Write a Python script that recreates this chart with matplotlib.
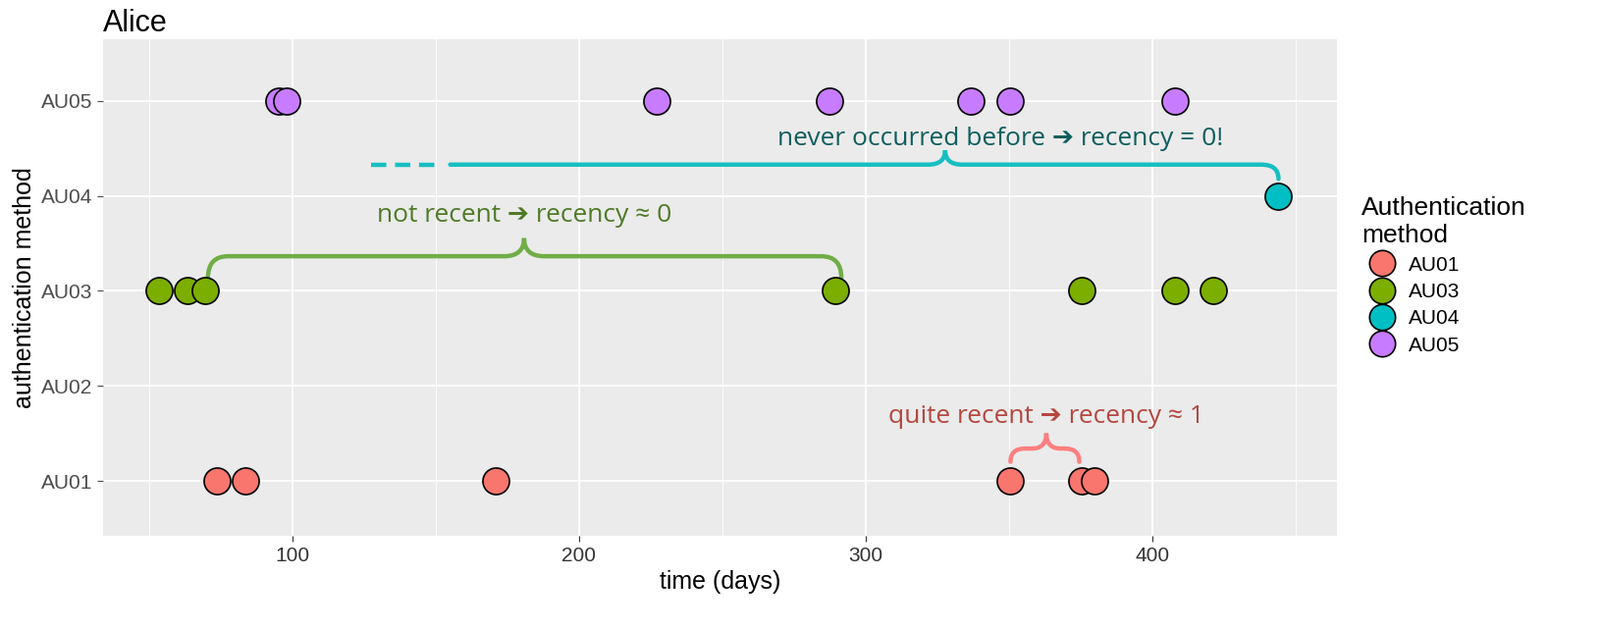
import matplotlib
matplotlib.use("Agg")
import matplotlib.pyplot as plt
from matplotlib.path import Path
from matplotlib.patches import PathPatch
from matplotlib.lines import Line2D

categories = ["AU01", "AU02", "AU03", "AU04", "AU05"]
au01_t = [73.6, 83.6, 170.9, 350.3, 375.3, 379.8]
au03_t = [53.4, 63.4, 69.5, 289.4, 375.3, 407.9, 421.2]
au04_t = [444.0]
au05_t = [95.2, 98.0, 227.0, 287.3, 336.6, 350.3, 407.9]
series = [("AU01", au01_t, "#F8766D"), ("AU03", au03_t, "#7CAE00"),
          ("AU04", au04_t, "#00BFC4"), ("AU05", au05_t, "#C77CFF")]
xticks = [100, 200, 300, 400]

plt.rcParams["font.family"] = ["Liberation Sans", "DejaVu Sans"]
fig = plt.figure(figsize=(16.3, 6.41), dpi=100)
ax = fig.add_axes([0.0644, 0.148, 0.7712, 0.7896])
ax.set_facecolor("#EBEBEB")
ax.set_xlim(33.9, 464.4)
ax.set_ylim(0.42, 5.65)
for xv in [50, 150, 250, 350, 450]:
    ax.axvline(xv, color="white", lw=0.6, zorder=0)
for xv in xticks:
    ax.axvline(xv, color="white", lw=1.3, zorder=0)
for yv in range(1, 6):
    ax.axhline(yv, color="white", lw=1.3, zorder=0)
for s in ax.spines.values():
    s.set_visible(False)
ax.set_xticks(xticks)
ax.set_yticks(range(1, 6))
ax.set_yticklabels(categories)
ax.tick_params(colors="#4D4D4D", labelsize=15, length=4, labelcolor="#4D4D4D")
ax.tick_params(axis="x", colors="#333333")
ax.set_xlabel("time (days)", fontsize=18)
ax.set_ylabel("authentication method", fontsize=18)
ax.set_title("Alice", loc="left", fontsize=22, x=0.0, pad=6)

for name, ts, c in series:
    yv = categories.index(name) + 1
    ax.scatter(ts, [yv] * len(ts), s=380, color=c, edgecolor="black", lw=1.2, zorder=3)

fnt = ["Open Sans", "DejaVu Sans"]

def brace(x0, x1, xm, yb, dy_end, dy_tip, rx, color, lw=3.2, left_end=True):
    if left_end:
        verts = [(x0, yb - dy_end), (x0, yb), (x0 + rx, yb)]
        codes = [Path.MOVETO, Path.CURVE3, Path.CURVE3]
    else:
        verts = [(x0, yb)]
        codes = [Path.MOVETO]
    verts += [(xm - rx, yb), (xm, yb), (xm, yb + dy_tip),
              (xm, yb), (xm + rx, yb),
              (x1 - rx, yb), (x1, yb), (x1, yb - dy_end)]
    codes += [Path.LINETO, Path.CURVE3, Path.CURVE3,
              Path.CURVE3, Path.CURVE3, Path.LINETO, Path.CURVE3, Path.CURVE3]
    ax.add_patch(PathPatch(Path(verts, codes), fill=False, edgecolor=color, lw=lw,
                           capstyle="round", zorder=2))

# green brace
brace(70.5, 291.5, 180.8, 3.365, 0.23, 0.19, 7, "#70AD47")
ax.text(180.8, 3.8, "not recent \u2794 recency \u2248 0", color="#4E7A26", fontsize=19,
        ha="center", va="center", family=fnt)
# teal brace with dashed start
ax.plot([127.5, 152], [4.33, 4.33], color="#17BEC2", lw=3.2, ls=(0, (3.5, 2)))
brace(155, 444, 327.7, 4.33, 0.15, 0.15, 6, "#17BEC2", left_end=False)
ax.text(347, 4.6, "never occurred before \u2794 recency = 0!", color="#0E5E5E", fontsize=19,
        ha="center", va="center", family=fnt)
# red brace
brace(350.5, 374.5, 363, 1.34, 0.14, 0.16, 5, "#FF7F7F")
ax.text(363, 1.68, "quite recent \u2794 recency \u2248 1", color="#B5473F", fontsize=19,
        ha="center", va="center", family=fnt)

handles = [Line2D([], [], marker="o", ls="", markersize=19, markerfacecolor=c,
                  markeredgecolor="black", markeredgewidth=1.2) for _, _, c in series]
leg = ax.legend(handles, [n for n, _, _ in series], title="Authentication\nmethod",
                loc="upper left", bbox_to_anchor=(1.005, 0.72), frameon=False,
                fontsize=15, title_fontsize=19, labelspacing=0.4, handletextpad=0.3,
                alignment="left")
fig.savefig("out.png", dpi=100)
